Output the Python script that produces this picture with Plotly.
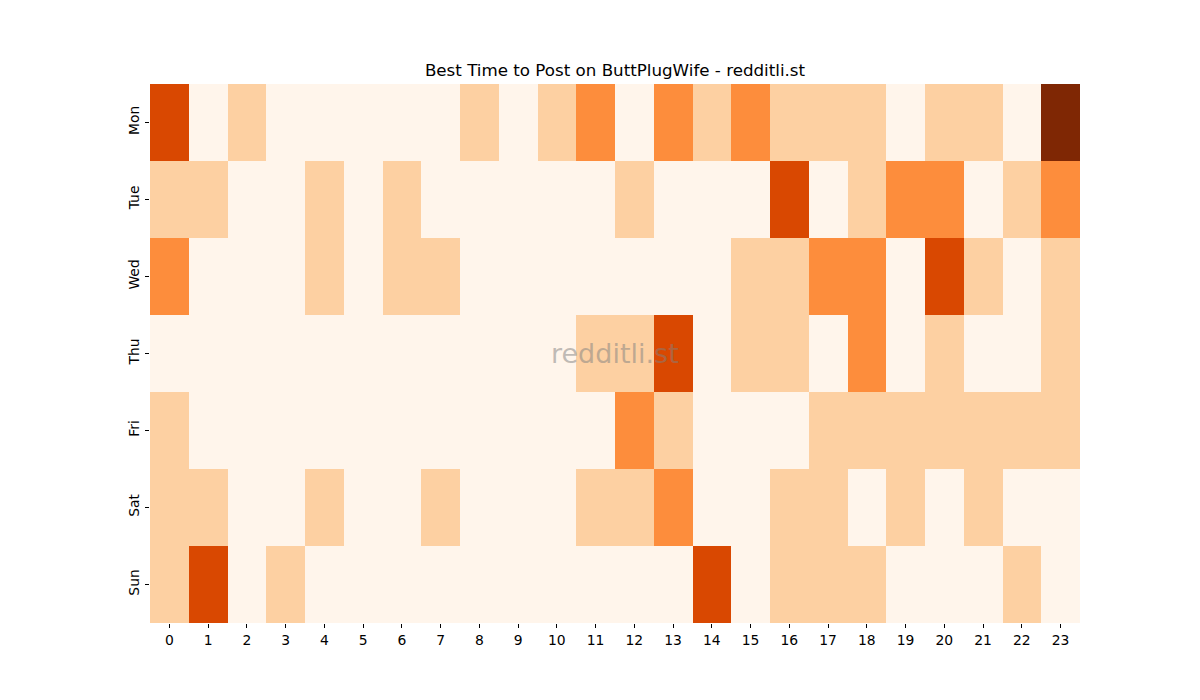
import plotly.graph_objects as go

DAYS = ["Mon", "Tue", "Wed", "Thu", "Fri", "Sat", "Sun"]
HOURS = [str(h) for h in range(24)]

# activity level per hour (0..4)
MON = [3, 0, 1, 0, 0, 0, 0, 0, 1, 0, 1, 2, 0, 2, 1, 2, 1, 1, 1, 0, 1, 1, 0, 4]
TUE = [1, 1, 0, 0, 1, 0, 1, 0, 0, 0, 0, 0, 1, 0, 0, 0, 3, 0, 1, 2, 2, 0, 1, 2]
WED = [2, 0, 0, 0, 1, 0, 1, 1, 0, 0, 0, 0, 0, 0, 0, 1, 1, 2, 2, 0, 3, 1, 0, 1]
THU = [0, 0, 0, 0, 0, 0, 0, 0, 0, 0, 0, 1, 1, 3, 0, 1, 1, 0, 2, 0, 1, 0, 0, 1]
FRI = [1, 0, 0, 0, 0, 0, 0, 0, 0, 0, 0, 0, 2, 1, 0, 0, 0, 1, 1, 1, 1, 1, 1, 1]
SAT = [1, 1, 0, 0, 1, 0, 0, 1, 0, 0, 0, 1, 1, 2, 0, 0, 1, 1, 0, 1, 0, 1, 0, 0]
SUN = [1, 3, 0, 1, 0, 0, 0, 0, 0, 0, 0, 0, 0, 0, 3, 0, 1, 1, 1, 0, 0, 0, 1, 0]

ORANGES = [
    [0.0, "#fff5eb"],
    [0.125, "#fee6ce"],
    [0.25, "#fdd0a2"],
    [0.375, "#fdae6b"],
    [0.5, "#fd8d3c"],
    [0.625, "#f16913"],
    [0.75, "#d94801"],
    [0.875, "#a63603"],
    [1.0, "#7f2704"],
]

FONT = "DejaVu Sans"

fig = go.Figure(
    go.Heatmap(
        z=[MON, TUE, WED, THU, FRI, SAT, SUN],
        x=HOURS,
        y=DAYS,
        colorscale=ORANGES,
        zmin=0,
        zmax=4,
        showscale=False,
        xgap=0,
        ygap=0,
    )
)

fig.add_annotation(
    text="redditli.st",
    x=0.5,
    y=0.5,
    xref="paper",
    yref="paper",
    showarrow=False,
    font={"family": FONT, "size": 27, "color": "rgba(128,128,128,0.5)"},
)

# the page body adds an 8px offset, so margins are shifted to compensate
fig.update_layout(
    width=1200,
    height=700,
    paper_bgcolor="white",
    plot_bgcolor="white",
    font={"family": FONT, "size": 13.9, "color": "black"},
    title={
        "text": "Best Time to Post on ButtPlugWife - redditli.st",
        "x": 0.5,
        "xref": "paper",
        "xanchor": "center",
        "y": 1 - 62 / 700,
        "yanchor": "middle",
        "font": {"family": FONT, "size": 16.7, "color": "black"},
    },
    margin=dict(l=142, r=128, t=76, b=85, pad=0),
)
fig.update_xaxes(
    type="category",
    showgrid=False,
    zeroline=False,
    ticks="outside",
    ticklen=4,
    tickcolor="black",
    showline=False,
)
fig.update_yaxes(
    type="category",
    autorange="reversed",
    showgrid=False,
    zeroline=False,
    ticks="outside",
    ticklen=4,
    tickcolor="black",
    tickangle=-90,
    showline=False,
)

fig.write_html("out.html")
